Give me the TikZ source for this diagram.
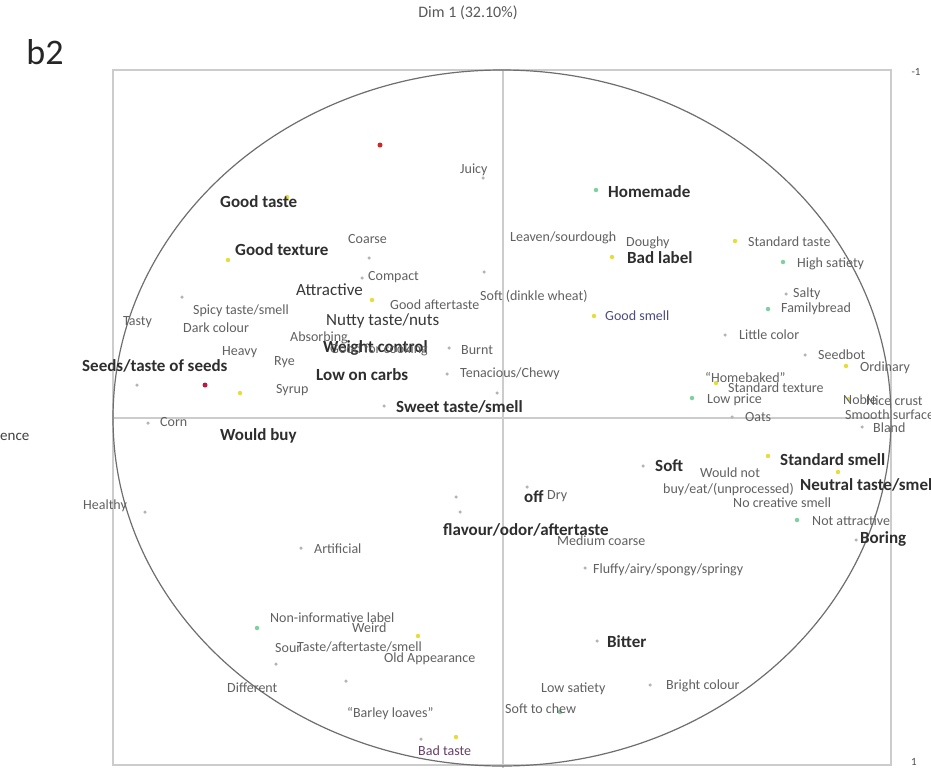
\documentclass[tikz,border=0pt]{standalone}
\usepackage{fontspec}
\setmainfont{Carlito}
\definecolor{framec}{HTML}{CCCCCC}
\definecolor{ellc}{HTML}{6E6E6E}
\definecolor{ylw}{HTML}{E6DC3C}
\definecolor{grn}{HTML}{7FCFA0}
\definecolor{gry}{HTML}{B4B4B4}
\definecolor{rd}{HTML}{D02828}
\begin{document}
\begin{tikzpicture}[x=1pt,y=-1pt,
  lab/.style={anchor=west,inner sep=0,text=black!62,font=\fontsize{14}{14}\selectfont},
  mid/.style={anchor=west,inner sep=0,text=black!78,font=\fontsize{17}{17}\selectfont},
  big/.style={anchor=west,inner sep=0,text=black!82,font=\bfseries\fontsize{17}{17}\selectfont},
  mk/.style={circle,inner sep=0,minimum size=4.5pt},
  yp/.style={mk,fill=ylw},
  gp/.style={mk,fill=grn},
  sp/.style={mk,fill=gry,minimum size=3.5pt},
  rp/.style={mk,fill=rd,minimum size=5pt},
  axis/.style={draw=framec,line width=1.8pt}]
\useasboundingbox (0,0) rectangle (931,768);
\fill[white] (0,0) rectangle (931,768);
% frame and axes
\draw[draw=framec,line width=1.4pt] (113,70) rectangle (891,765);
\draw[axis] (113,418) -- (891,418);
\draw[axis] (503,70) -- (503,768);
\draw[ellc,line width=1.2pt] (502,418) ellipse [x radius=389, y radius=348];
% titles
\node[text=black!65,font=\fontsize{16}{16}\selectfont] (title) at (468,13) {Dim 1 (32.10\%)};
\node[text=black!85,font=\fontsize{36}{36}\selectfont] (b2) at (45,52) {b2};
\node[text=black!70,font=\fontsize{11}{11}\selectfont] (tm1) at (916,72) {-1};
\node[text=black!70,font=\fontsize{11}{11}\selectfont] (tp1) at (914,762) {1};
\node[anchor=west,inner sep=0,text=black!75,font=\fontsize{15}{15}\selectfont] (dim2) at (0,437) {ence};
% markers
\node[rp] (r1) at (380,145) {};
\node[rp,fill=rd!70!violet] (r2) at (205,385) {};
\foreach \p [count=\i] in {(287,197),(228,260),(372,300),(240,393),(612,257),(594,316),(735,241),(716,383),(768,456),(838,472),(849,399),(846,366),(456,737),(418,636)}
  \node[yp] (y\i) at \p {};
\foreach \p [count=\i] in {(596,190),(783,262),(768,309),(692,398),(797,520),(257,628),(560,712)}
  \node[gp] (g\i) at \p {};
\foreach \p [count=\i] in {(483,178),(369,258),(362,278),(182,297),(137,385),(449,348),(447,374),(384,406),(148,423),(145,512),(301,548),(460,512),(643,466),(585,568),(597,641),(650,685),(276,664),(346,681),(456,497),(725,335),(805,355),(786,294),(732,417),(862,427),(484,272),(527,487),(856,540),(421,739),(610,240),(497,393)}
  \node[sp] (s\i) at \p {};
% big labels
\node[big] (goodtaste) at (220,202) {Good taste};
\node[big] (goodtexture) at (235,250) {Good texture};
\node[big] (seeds) at (82,366) {Seeds/taste of seeds};
\node[big] (lowcarbs) at (316,375) {Low on carbs};
\node[big] (sweet) at (396,407) {Sweet taste/smell};
\node[big] (wouldbuy) at (220,436) {Would buy};
\node[big] (homemade) at (608,192) {Homemade};
\node[big] (badlabel) at (627,258) {Bad label};
\node[big] (stdsmell) at (780,460) {Standard smell};
\node[big] (neutral) at (800,485) {Neutral taste/smell};
\node[big] (boring) at (860,539) {Boring};
\node[big] (soft) at (655,466) {Soft};
\node[big] (off) at (524,497) {off};
\node[big] (flavour) at (443,530) {flavour/odor/aftertaste};
\node[big] (bitter) at (607,642) {Bitter};
% mid labels
\node[mid] (nutty) at (326,321) {Nutty taste/nuts};
\node[mid] (attractive) at (296,290) {Attractive};
\node[big] (weight) at (323,348) {Weight control};
% small labels
\node[lab] (juicy) at (460,170) {Juicy};
\node[lab] (coarse) at (348,239) {Coarse};
\node[lab] (compact) at (368,277) {Compact};
\node[lab] (goodafter) at (390,305) {Good aftertaste};
\node[lab] (spicy) at (193,311) {Spicy taste/smell};
\node[lab] (tasty) at (123,322) {Tasty};
\node[lab] (dark) at (183,328) {Dark colour};
\node[lab] (heavy) at (222,352) {Heavy};
\node[lab] (rye) at (274,362) {Rye};
\node[lab] (syrup) at (276,390) {Syrup};
\node[lab] (absorb) at (290,338) {Absorbing};
\node[lab] (cooking) at (330,350) {Good for cooking};
\node[lab] (burnt) at (461,350) {Burnt};
\node[lab] (tenacious) at (460,374) {Tenacious/Chewy};
\node[lab] (dinkle) at (480,296) {Soft (dinkle wheat)};
\node[lab] (leaven) at (510,238) {Leaven/sourdough};
\node[lab] (doughy) at (626,243) {Doughy};
\node[lab,text=blue!30!black!70] (goodsmell) at (605,316) {Good smell};
\node[lab] (stdtaste) at (748,242) {Standard taste};
\node[lab] (highsat) at (797,264) {High satiety};
\node[lab] (salty) at (793,294) {Salty};
\node[lab] (family) at (781,309) {Familybread};
\node[lab] (little) at (739,335) {Little color};
\node[lab] (seedbot) at (818,355) {Seedbot};
\node[lab] (ordinary) at (860,368) {Ordinary};
\node[lab] (homebaked) at (705,377) {``Homebaked''};
\node[lab] (stdtexture) at (728,388) {Standard texture};
\node[lab] (lowprice) at (707,400) {Low price};
\node[lab] (oats) at (745,417) {Oats};
\node[lab] (noble) at (843,400) {Noble};
\node[lab] (nicecrust) at (866,401) {Nice crust};
\node[lab] (smooth) at (845,415) {Smooth surface};
\node[lab] (bland) at (873,428) {Bland};
\node[lab] (wouldnot) at (700,473) {Would not};
\node[lab] (buyeat) at (663,490) {buy/eat/(unprocessed)};
\node[lab] (nocreative) at (733,503) {No creative smell};
\node[lab] (notattr) at (812,521) {Not attractive};
\node[lab] (medium) at (557,541) {Medium coarse};
\node[lab] (fluffy) at (593,570) {Fluffy/airy/spongy/springy};
\node[lab] (dry) at (547,496) {Dry};
\node[lab] (corn) at (160,422) {Corn};
\node[lab] (healthy) at (83,506) {Healthy};
\node[lab] (artificial) at (314,549) {Artificial};
\node[lab] (noninfo) at (270,618) {Non-informative label};
\node[lab] (weird) at (352,628) {Weird};
\node[lab] (sour) at (275,648) {Sour};
\node[lab] (tasteafter) at (297,647) {Taste/aftertaste/smell};
\node[lab] (oldapp) at (384,659) {Old Appearance};
\node[lab] (different) at (227,688) {Different};
\node[lab] (barley) at (347,714) {``Barley loaves''};
\node[lab,text=violet!40!black!75] (badtaste) at (418,751) {Bad taste};
\node[lab] (lowsat) at (541,689) {Low satiety};
\node[lab] (bright) at (666,686) {Bright colour};
\node[lab] (softchew) at (505,709) {Soft to chew};
\end{tikzpicture}
\end{document}
